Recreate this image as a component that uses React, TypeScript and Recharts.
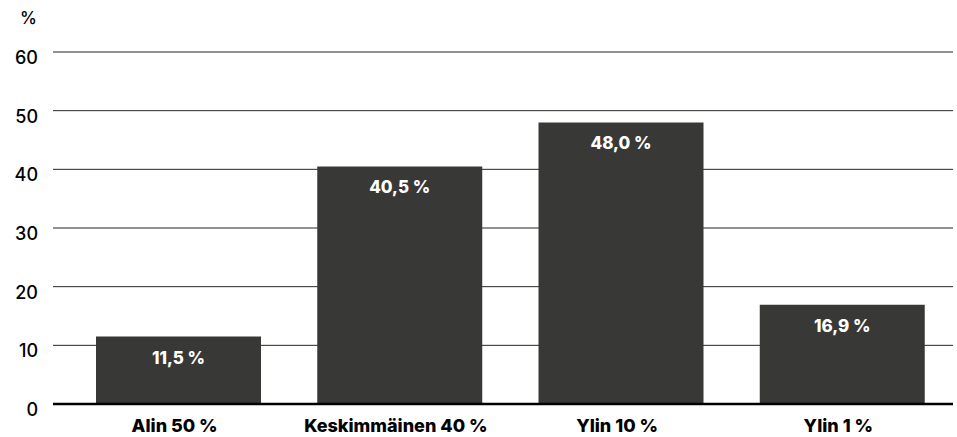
import { Bar, BarChart, CartesianGrid, LabelList, XAxis, YAxis } from 'recharts';

// Income share by group, %
const groups = ['Alin 50 %', 'Keskimmäinen 40 %', 'Ylin 10 %', 'Ylin 1 %'];
const shares = [11.5, 40.5, 48.0, 16.9];
const yTicks = [0, 10, 20, 30, 40, 50, 60];

const data = groups.map((g, i) => ({ group: g, share: shares[i] }));

const FONT = 'Inter, "Noto Sans", sans-serif';
const INK = '#000000';
const BAR = '#383836';

const fmt = (v: number) => v.toFixed(1).replace('.', ',') + ' %';

function YTick({ x, y, payload }: any) {
  return (
    <text x={x} y={y + 7} textAnchor="end" dominantBaseline="middle" fill={INK} fontSize={18} fontWeight={500} fontFamily={FONT}>
      {payload.value}
    </text>
  );
}

function XTick({ x, y, payload }: any) {
  return (
    <text x={x - 4} y={y + 15} textAnchor="middle" dominantBaseline="middle" fill={INK} fontSize={18} fontWeight={800} fontFamily={FONT}>
      {payload.value}
    </text>
  );
}

export default function App() {
  return (
    <div style={{ position: 'absolute', left: 0, top: 0, width: 957, height: 437, background: '#fff' }}>
      <div style={{ position: 'absolute', left: 20, top: 8, fontFamily: FONT, fontSize: 17, fontWeight: 500, color: INK }}>%</div>
      <BarChart width={957} height={437} data={data} margin={{ top: 52, right: 4, bottom: 0, left: 0 }} barSize={165}>
        <CartesianGrid vertical={false} stroke={INK} strokeOpacity={0.85} />
        <XAxis
          dataKey="group"
          axisLine={{ stroke: INK, strokeWidth: 2.5 }}
          tickLine={false}
          tick={<XTick />}
          height={33}
          padding={{ left: 15, right: 0 }}
          interval={0}
        />
        <YAxis
          domain={[0, 60]}
          ticks={yTicks}
          axisLine={false}
          tickLine={false}
          tickSize={0}
          tickMargin={15}
          width={53}
          tick={<YTick />}
        />
        <Bar dataKey="share" fill={BAR} isAnimationActive={false}>
          <LabelList
            dataKey="share"
            position="insideTop"
            offset={15}
            formatter={(v: any) => fmt(Number(v))}
            fill="#ffffff"
            fontSize={17}
            fontWeight={800}
            fontFamily={FONT}
          />
        </Bar>
      </BarChart>
    </div>
  );
}
